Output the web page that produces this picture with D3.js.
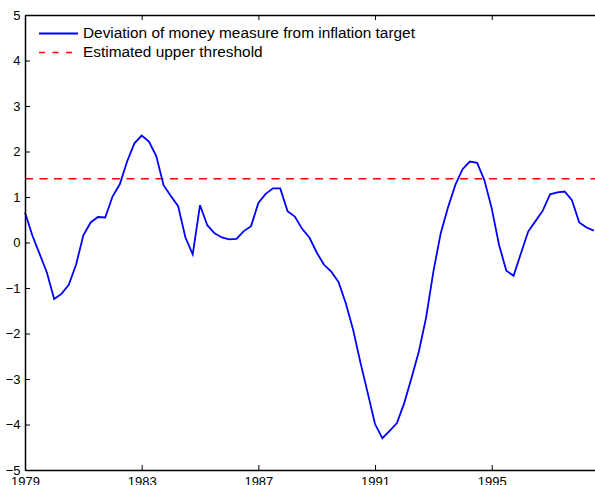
<!DOCTYPE html>
<html><head><meta charset="utf-8">
<script src="https://cdn.jsdelivr.net/npm/d3@7"></script>
<style>body{margin:0;background:#fff;overflow:hidden}svg{display:block}</style>
</head><body>
<svg id="c" width="595" height="485"></svg>
<script>
const startYear = 1979;
const deviation = [0.66, 0.16, -0.25, -0.66, -1.24, -1.13, -0.93, -0.49, 0.16, 0.44, 0.56, 0.55,
  1.01, 1.28, 1.78, 2.18, 2.35, 2.22, 1.90, 1.26, 1.02, 0.80, 0.11, -0.26,
  0.82, 0.38, 0.20, 0.11, 0.07, 0.08, 0.25, 0.36, 0.87, 1.07, 1.19, 1.19,
  0.69, 0.57, 0.30, 0.11, -0.22, -0.49, -0.64, -0.87, -1.34, -1.92, -2.64, -3.31,
  -3.99, -4.30, -4.14, -3.97, -3.53, -2.98, -2.40, -1.65, -0.64, 0.20, 0.77, 1.26,
  1.61, 1.78, 1.75, 1.37, 0.75, -0.05, -0.62, -0.73, -0.24, 0.24, 0.47, 0.70,
  1.06, 1.10, 1.12, 0.93, 0.44, 0.33, 0.26];
const threshold = 1.4;
const xTicks = [1979, 1983, 1987, 1991, 1995, 1999];
const yTicks = [-5, -4, -3, -2, -1, 0, 1, 2, 3, 4, 5];
const legendLabels = ["Deviation of money measure from inflation target", "Estimated upper threshold"];

const svg = d3.select("#c");
const L = 25, T = 15, B = 470;
const pxPerYear = 29.17;
const x = d3.scaleLinear().domain([1979, 1999]).range([L, L + 20 * pxPerYear]);
const y = d3.scaleLinear().domain([-5, 5]).range([B, T]);
const R = x(1999);
const font = "Helvetica, Arial, 'Liberation Sans', sans-serif";

// threshold
svg.append("line").attr("x1", L).attr("x2", R).attr("y1", y(threshold)).attr("y2", y(threshold))
  .attr("stroke", "#ff0000").attr("stroke-width", 1.6).attr("stroke-dasharray", "8,6.5");

// series
const data = deviation.map((v, i) => [startYear + i / 4, v]);
svg.append("path").datum(data)
  .attr("d", d3.line().x(d => x(d[0])).y(d => y(d[1])))
  .attr("fill", "none").attr("stroke", "#0000ff").attr("stroke-width", 1.8).attr("stroke-linejoin", "miter");

// axes
const styleText = g => g.selectAll("text").attr("font-family", font).attr("font-size", 13).attr("fill", "#000");
const gBottom = svg.append("g").attr("transform", `translate(0,${B})`)
  .call(d3.axisBottom(x).tickValues(xTicks).tickFormat(d3.format("d")).tickSizeInner(-5).tickSizeOuter(0).tickPadding(7));
const gTop = svg.append("g").attr("transform", `translate(0,${T})`)
  .call(d3.axisTop(x).tickValues(xTicks).tickFormat("").tickSizeInner(-5).tickSizeOuter(0));
const gLeft = svg.append("g").attr("transform", `translate(${L},0)`)
  .call(d3.axisLeft(y).tickValues(yTicks).tickFormat(d => d < 0 ? "\u2212" + Math.abs(d) : d).tickSizeInner(-5).tickSizeOuter(0).tickPadding(4.5));
[gBottom, gTop, gLeft].forEach(g => {
  g.select(".domain").attr("stroke", "#000").attr("stroke-width", 1.5);
  g.selectAll(".tick line").attr("stroke", "#000").attr("stroke-width", 1);
  styleText(g);
});

// legend
const lg = svg.append("g");
const ly = [33.5, 52.5];
lg.append("line").attr("x1", 39).attr("x2", 78).attr("y1", ly[0]).attr("y2", ly[0])
  .attr("stroke", "#0000ff").attr("stroke-width", 1.8);
lg.append("line").attr("x1", 39).attr("x2", 78).attr("y1", ly[1]).attr("y2", ly[1])
  .attr("stroke", "#ff0000").attr("stroke-width", 1.6).attr("stroke-dasharray", "6,7.5");
legendLabels.forEach((t, i) => {
  lg.append("text").attr("x", 83).attr("y", ly[i]).attr("dy", "0.3em")
    .attr("font-family", font).attr("font-size", 15.4).attr("fill", "#000").text(t);
});
</script>
</body></html>
